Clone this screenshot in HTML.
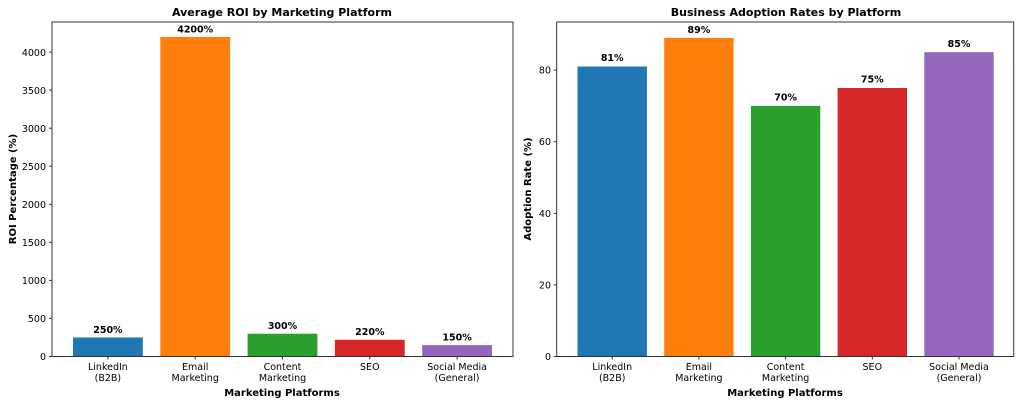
<!DOCTYPE html>
<html><head><style>body{margin:0;background:#fff}svg{display:block}text{font-family:"DejaVu Sans","Liberation Sans",sans-serif;fill:#000}</style></head><body>
<svg width="1024" height="405" viewBox="0 0 1024 405">
<!-- LEFT -->
<text x="282" y="16" font-size="11" font-weight="bold" text-anchor="middle">Average ROI by Marketing Platform</text>
<g>
<rect x="73" y="337.5" width="69.8" height="19" fill="#1f77b4"/>
<rect x="160.3" y="36.9" width="69.8" height="319.6" fill="#ff7f0e"/>
<rect x="247.6" y="333.7" width="69.8" height="22.8" fill="#2ca02c"/>
<rect x="334.9" y="339.8" width="69.8" height="16.7" fill="#d62728"/>
<rect x="422.2" y="345.1" width="69.8" height="11.4" fill="#9467bd"/>
</g>
<g font-size="9.5" font-weight="bold" text-anchor="middle">
<text x="107.9" y="333">250%</text><text x="195.2" y="32.5">4200%</text><text x="282.5" y="329">300%</text><text x="369.8" y="335">220%</text><text x="457.1" y="340.5">150%</text>
</g>
<rect x="52" y="22" width="461" height="334.5" fill="none" stroke="#333" stroke-width="1"/>
<g stroke="#333">
<line x1="49" x2="52" y1="356.5" y2="356.5"/><line x1="49" x2="52" y1="318.4" y2="318.4"/><line x1="49" x2="52" y1="280.4" y2="280.4"/><line x1="49" x2="52" y1="242.3" y2="242.3"/><line x1="49" x2="52" y1="204.3" y2="204.3"/><line x1="49" x2="52" y1="166.2" y2="166.2"/><line x1="49" x2="52" y1="128.2" y2="128.2"/><line x1="49" x2="52" y1="90.1" y2="90.1"/><line x1="49" x2="52" y1="52.1" y2="52.1"/>
<line x1="107.9" x2="107.9" y1="356.5" y2="359.5"/><line x1="195.2" x2="195.2" y1="356.5" y2="359.5"/><line x1="282.5" x2="282.5" y1="356.5" y2="359.5"/><line x1="369.8" x2="369.8" y1="356.5" y2="359.5"/><line x1="457.1" x2="457.1" y1="356.5" y2="359.5"/>
</g>
<g font-size="9.5" text-anchor="end">
<text x="46" y="360">0</text><text x="46" y="322">500</text><text x="46" y="284">1000</text><text x="46" y="246">1500</text><text x="46" y="208">2000</text><text x="46" y="170">2500</text><text x="46" y="132">3000</text><text x="46" y="94">3500</text><text x="46" y="56">4000</text>
</g>
<g font-size="9.5" text-anchor="middle" fill="#222">
<text x="107.9" y="370">LinkedIn</text><text x="107.9" y="381">(B2B)</text>
<text x="195.2" y="370">Email</text><text x="195.2" y="381">Marketing</text>
<text x="282.5" y="370">Content</text><text x="282.5" y="381">Marketing</text>
<text x="369.8" y="370">SEO</text>
<text x="457.1" y="370">Social Media</text><text x="457.1" y="381">(General)</text>
</g>
<text x="282" y="396" font-size="10" font-weight="bold" text-anchor="middle">Marketing Platforms</text>
<text transform="translate(16,189) rotate(-90)" font-size="10" font-weight="bold" text-anchor="middle">ROI Percentage (%)</text>
<!-- RIGHT -->
<text x="786" y="16" font-size="11" font-weight="bold" text-anchor="middle">Business Adoption Rates by Platform</text>
<g>
<rect x="577.5" y="66.5" width="69.4" height="290" fill="#1f77b4"/>
<rect x="664.2" y="37.9" width="69.4" height="318.6" fill="#ff7f0e"/>
<rect x="750.9" y="105.9" width="69.4" height="250.6" fill="#2ca02c"/>
<rect x="837.6" y="88" width="69.4" height="268.5" fill="#d62728"/>
<rect x="924.3" y="52.2" width="69.4" height="304.3" fill="#9467bd"/>
</g>
<g font-size="9.5" font-weight="bold" text-anchor="middle">
<text x="612.2" y="61">81%</text><text x="698.9" y="33">89%</text><text x="785.6" y="100.5">70%</text><text x="872.3" y="82.5">75%</text><text x="959" y="47">85%</text>
</g>
<rect x="556.7" y="22" width="457" height="334.5" fill="none" stroke="#333" stroke-width="1"/>
<g stroke="#333">
<line x1="553.7" x2="556.7" y1="356.5" y2="356.5"/><line x1="553.7" x2="556.7" y1="284.9" y2="284.9"/><line x1="553.7" x2="556.7" y1="213.3" y2="213.3"/><line x1="553.7" x2="556.7" y1="141.7" y2="141.7"/><line x1="553.7" x2="556.7" y1="70.1" y2="70.1"/>
<line x1="612.2" x2="612.2" y1="356.5" y2="359.5"/><line x1="698.9" x2="698.9" y1="356.5" y2="359.5"/><line x1="785.6" x2="785.6" y1="356.5" y2="359.5"/><line x1="872.3" x2="872.3" y1="356.5" y2="359.5"/><line x1="959" x2="959" y1="356.5" y2="359.5"/>
</g>
<g font-size="9.5" text-anchor="end">
<text x="551" y="360">0</text><text x="551" y="288.5">20</text><text x="551" y="217">40</text><text x="551" y="145">60</text><text x="551" y="73.5">80</text>
</g>
<g font-size="9.5" text-anchor="middle" fill="#222">
<text x="612.2" y="370">LinkedIn</text><text x="612.2" y="381">(B2B)</text>
<text x="698.9" y="370">Email</text><text x="698.9" y="381">Marketing</text>
<text x="785.6" y="370">Content</text><text x="785.6" y="381">Marketing</text>
<text x="872.3" y="370">SEO</text>
<text x="959" y="370">Social Media</text><text x="959" y="381">(General)</text>
</g>
<text x="785" y="396" font-size="10" font-weight="bold" text-anchor="middle">Marketing Platforms</text>
<text transform="translate(531,189) rotate(-90)" font-size="10" font-weight="bold" text-anchor="middle">Adoption Rate (%)</text>
</svg>
</body></html>
